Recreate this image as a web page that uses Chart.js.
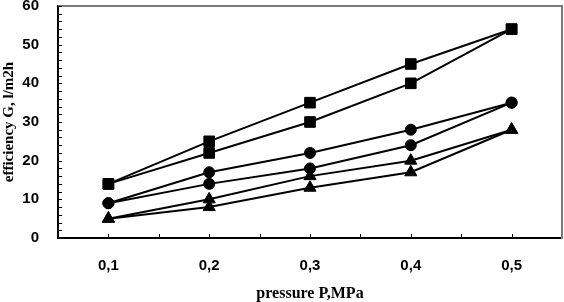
<!DOCTYPE html>
<html>
<head>
<meta charset="utf-8">
<script src="https://cdn.jsdelivr.net/npm/chart.js@4"></script>
<style>
  html, body { margin: 0; padding: 0; background: #fff; }
  #wrap { width: 564px; height: 302px; }
</style>
</head>
<body>
<div id="wrap"><canvas id="chart"></canvas></div>
<script>
const pressure = ['0,1', '0,2', '0,3', '0,4', '0,5'];
const squaresUpper = [14, 25, 35, 45, 54];
const squaresLower = [14, 22, 30, 40, 54];
const circlesUpper = [9, 17, 22, 28, 35];
const circlesLower = [9, 14, 18, 24, 35];
const trianglesUpper = [5, 10, 16, 20, 28];
const trianglesLower = [5, 8, 13, 17, 28];

function series(values, style, radius) {
    return {
        data: values,
        borderColor: '#000',
        backgroundColor: '#000',
        borderWidth: 2,
        pointStyle: style,
        pointRadius: radius,
        pointHoverRadius: radius,
        pointBorderWidth: 1,
        tension: 0
    };
}

// grey frame on top/right and the small inside ticks of the original
const frame = {
    id: 'frame',
    afterDraw(chart) {
        const ctx = chart.ctx;
        const a = chart.chartArea;
        const x = chart.scales.x;
        const y = chart.scales.y;
        ctx.save();
        ctx.strokeStyle = '#7a7a7a';
        ctx.lineWidth = 2;
        ctx.beginPath();
        ctx.moveTo(a.left, a.top);
        ctx.lineTo(a.right, a.top);
        ctx.lineTo(a.right, a.bottom + 1);
        ctx.stroke();

        ctx.strokeStyle = '#000';
        ctx.lineWidth = 1;
        ctx.beginPath();
        for (let v = 0; v <= 60; v += 2) {
            const py = Math.round(y.getPixelForValue(v)) + 0.5;
            ctx.moveTo(a.left, py);
            ctx.lineTo(a.left + 4, py);
        }
        const step = x.getPixelForValue(1) - x.getPixelForValue(0);
        for (let i = 0; i < pressure.length; i++) {
            const c = x.getPixelForValue(i);
            [c - step / 2, c].forEach(function (px) {
                px = Math.round(px) + 0.5;
                ctx.moveTo(px, a.bottom);
                ctx.lineTo(px, a.bottom - 4);
            });
        }
        ctx.stroke();
        ctx.restore();
    }
};

const chart = new Chart(document.getElementById('chart'), {
    type: 'line',
    data: {
        labels: pressure,
        datasets: [
            series(squaresUpper, 'rect', 7.5),
            series(squaresLower, 'rect', 7.5),
            series(circlesUpper, 'circle', 5.5),
            series(circlesLower, 'circle', 5.5),
            series(trianglesUpper, 'triangle', 7),
            series(trianglesLower, 'triangle', 7)
        ]
    },
    options: {
        responsive: true,
        maintainAspectRatio: false,
        animation: false,
        layout: { padding: { top: 6, right: 2, left: 0, bottom: 0 }, autoPadding: false },
        plugins: {
            legend: { display: false },
            tooltip: { enabled: false }
        },
        scales: {
            x: {
                offset: true,
                afterFit: function (scale) {
                    scale.height = 64;
                    scale.paddingLeft = 0;
                    scale.paddingRight = 0;
                },
                grid: { display: false, drawTicks: false },
                border: { display: true, color: '#000', width: 2 },
                ticks: {
                    color: '#000',
                    padding: 19,
                    font: { family: 'Liberation Sans', size: 15, weight: 'bold' }
                },
                title: {
                    display: true,
                    text: 'pressure P,MPa',
                    color: '#000',
                    padding: 0,
                    font: { family: 'Liberation Serif', size: 16, weight: 'bold', lineHeight: 1 }
                }
            },
            y: {
                min: 0,
                max: 60,
                afterFit: function (scale) {
                    scale.width = 58;
                    scale.paddingTop = 0;
                    scale.paddingBottom = 0;
                },
                grid: { display: false, drawTicks: false },
                border: { display: true, color: '#000', width: 2 },
                ticks: {
                    stepSize: 10,
                    color: '#000',
                    padding: 19,
                    font: { family: 'Liberation Sans', size: 15, weight: 'bold' }
                },
                title: {
                    display: true,
                    text: 'efficiency G, l/m2h',
                    color: '#000',
                    padding: { top: 2, bottom: 0 },
                    font: { family: 'Liberation Serif', size: 15, weight: 'bold', lineHeight: 1 }
                }
            }
        }
    },
    plugins: [frame]
});
</script>
</body>
</html>
